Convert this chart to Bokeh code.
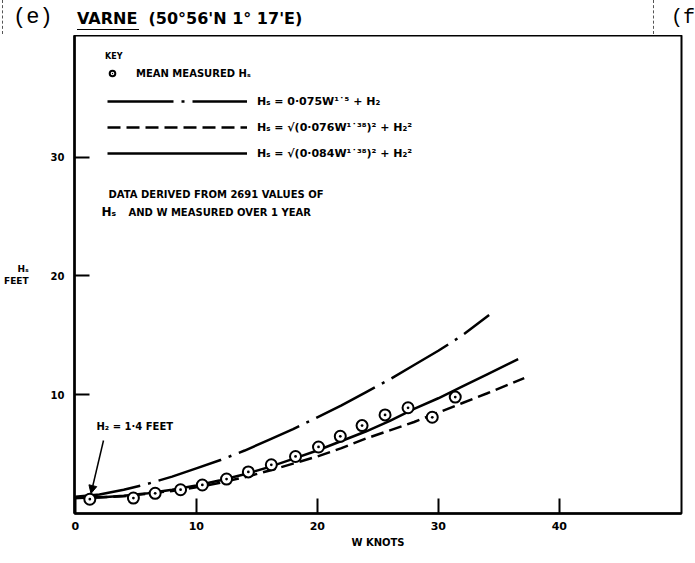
from bokeh.plotting import figure
from bokeh.layouts import column
from bokeh.models import Range1d, FixedTicker, Label, Arrow, NormalHead, Legend, LegendItem, Div
from bokeh.embed import file_html
from bokeh.resources import INLINE

# ---- data ----
W_obs = [1.2, 4.8, 6.6, 8.7, 10.5, 12.5, 14.3, 16.2, 18.2, 20.1, 21.9, 23.7, 25.6, 27.5, 29.5, 31.4]
H_obs = [1.2, 1.3, 1.7, 2.0, 2.4, 2.9, 3.5, 4.1, 4.8, 5.6, 6.5, 7.4, 8.3, 8.9, 8.1, 9.8]

W_dd = [0, 2, 4, 6, 8, 10, 12, 14, 16, 18, 20, 22, 24, 26, 28, 30, 32, 34.2]
H_dd = [1.4, 1.6, 2.0, 2.5, 3.1, 3.8, 4.5, 5.3, 6.2, 7.1, 8.1, 9.1, 10.2, 11.3, 12.5, 13.7, 15.0, 16.7]

W_sol = [0, 2, 4, 6, 8, 10, 12, 14, 16, 18, 20, 22, 24, 26, 28, 30, 32, 34, 36.6]
H_sol = [1.3, 1.35, 1.5, 1.7, 2.0, 2.35, 2.8, 3.3, 3.9, 4.6, 5.3, 6.1, 6.9, 7.8, 8.8, 9.7, 10.7, 11.7, 13.0]

W_dash = [0, 4, 8, 10, 12, 14, 16, 18, 20, 22, 24, 26, 28, 30, 32, 34, 37.1]
H_dash = [1.3, 1.45, 1.9, 2.2, 2.6, 3.05, 3.6, 4.2, 4.8, 5.5, 6.3, 7.0, 7.7, 8.5, 9.3, 10.1, 11.4]

x_ticks = [0, 10, 20, 30, 40]
y_ticks = [10, 20, 30]

FONT = "DejaVu Sans"

# ---- geometry helpers (page px -> data) ----
X0, SX = 74.8, 12.1
Y0, SY = 513.0, 11.88
def dx(px):
    return (px - X0) / SX
def dy(py):
    return (Y0 - py) / SY

# ---- heading strip (page y 0..35) ----
heading_html = (
    "<div style=\"position:relative;width:695px;height:35px;overflow:hidden;background:white;\">"
    "<div style=\"position:absolute;left:2px;top:0px;height:34px;border-left:1px dashed #555;\"></div>"
    "<div style=\"position:absolute;left:653px;top:0px;height:34px;border-left:1px dashed #555;\"></div>"
    "<span style=\"position:absolute;left:13px;top:5px;font-family:'Liberation Mono';"
    "font-size:22px;line-height:26px;color:black;white-space:nowrap;\">(e)</span>"
    "<span style=\"position:absolute;left:77px;top:8px;font-family:'DejaVu Sans';font-weight:bold;"
    "font-size:16px;line-height:21px;color:black;white-space:nowrap;\">"
    "VARNE&nbsp;&nbsp;(50°56'N 1° 17'E)</span>"
    "<div style=\"position:absolute;left:77px;top:29px;width:62px;height:0px;border-top:1.5px solid black;\"></div>"
    "<span style=\"position:absolute;left:671px;top:5px;font-family:'Liberation Mono';"
    "font-size:20px;line-height:26px;color:black;white-space:nowrap;\">(f</span>"
    "</div>"
)
head = Div(text=heading_html, width=695, height=35, margin=0)

# ---- main chart (page y 35..563) ----
p = figure(width=695, height=528, output_backend="svg", toolbar_location=None,
           x_range=Range1d(dx(74), dx(681)), y_range=Range1d(dy(513), dy(35)),
           min_border_left=74, min_border_right=14, min_border_top=0, min_border_bottom=50)
p.grid.visible = False
p.outline_line_color = "black"
p.outline_line_width = 2
p.background_fill_color = "white"
p.border_fill_color = "white"

for ax, ticks in ((p.xaxis[0], x_ticks), (p.yaxis[0], y_ticks)):
    ax.ticker = FixedTicker(ticks=ticks)
    ax.major_tick_in = 15
    ax.major_tick_out = 0
    ax.minor_tick_line_color = None
    ax.major_tick_line_width = 2
    ax.major_tick_line_color = "black"
    ax.axis_line_width = 2.5
    ax.axis_line_color = "black"
    ax.major_label_text_font = FONT
    ax.major_label_text_font_style = "bold"
    ax.major_label_text_color = "black"
    ax.axis_label_text_font = FONT
    ax.axis_label_text_font_style = "bold"
    ax.axis_label_text_color = "black"
p.xaxis.major_label_text_font_size = "11px"
p.xaxis.major_label_standoff = 8
p.xaxis.axis_label = "W KNOTS"
p.xaxis.axis_label_text_font_size = "10px"
p.xaxis.axis_label_standoff = 4
p.yaxis.major_label_text_font_size = "10px"
p.yaxis.major_label_standoff = 10
p.yaxis.axis_label = "Hₛ\nFEET"
p.yaxis.axis_label_orientation = "horizontal"
p.yaxis.axis_label_text_font_size = "9px"
p.yaxis.axis_label_standoff = 19

# ---- curves ----
r_dd = p.line(W_dd, H_dd, line_color="black", line_width=2.5, line_dash="66 8 3 8")
r_dash = p.line(W_dash, H_dash, line_color="black", line_width=2.5, line_dash="13 6")
r_sol = p.line(W_sol, H_sol, line_color="black", line_width=2.5)
r_obs = p.scatter(W_obs, H_obs, marker="circle_dot", size=11, line_width=2,
                  line_color="black", fill_color="white")

# ---- key ----
leg1 = Legend(items=[LegendItem(label="MEAN MEASURED Hₛ", renderers=[r_obs])],
              title="KEY", location=(31, 432), glyph_width=14, glyph_height=16,
              label_standoff=17, padding=0, margin=0, border_line_color=None,
              background_fill_alpha=0, title_text_font=FONT, title_text_font_size="8px",
              title_text_font_style="bold", title_text_color="black", title_standoff=4,
              label_text_font=FONT, label_text_font_size="10px", label_text_font_style="bold",
              label_text_color="black")
leg2 = Legend(items=[LegendItem(label="Hₛ = 0·075W¹˙⁵ + H₂", renderers=[r_dd]),
                     LegendItem(label="Hₛ = √(0·076W¹˙³⁸)² + H₂²", renderers=[r_dash]),
                     LegendItem(label="Hₛ = √(0·084W¹˙³⁸)² + H₂²", renderers=[r_sol])],
              location=(33, 350), glyph_width=140, glyph_height=20, spacing=6,
              label_standoff=10, padding=0, margin=0, border_line_color=None,
              background_fill_alpha=0,
              label_text_font=FONT, label_text_font_size="11px", label_text_font_style="bold",
              label_text_color="black")
p.add_layout(leg1)
p.add_layout(leg2)

def lab(x, y, text, size="9px", font=FONT, style="bold", align="left"):
    p.add_layout(Label(x=dx(x), y=dy(y), text=text, text_font=font, text_font_size=size,
                       text_font_style=style, text_align=align, text_baseline="middle",
                       text_color="black"))

lab(108, 194, "DATA  DERIVED  FROM  2691  VALUES  OF", "10px")
lab(101, 211, "Hₛ", "12px")
lab(128, 212, "AND  W  MEASURED  OVER  1  YEAR", "10px")

# H2 annotation
lab(96, 426, "H₂  =  1·4  FEET", "10px")
p.add_layout(Arrow(end=NormalHead(size=8, fill_color="black", line_color="black"),
                   x_start=dx(103), y_start=dy(440), x_end=dx(90.5), y_end=dy(493),
                   line_width=1.5, line_color="black"))

layout = column(head, p, spacing=0)
open("out.html", "w").write(file_html(layout, INLINE))
